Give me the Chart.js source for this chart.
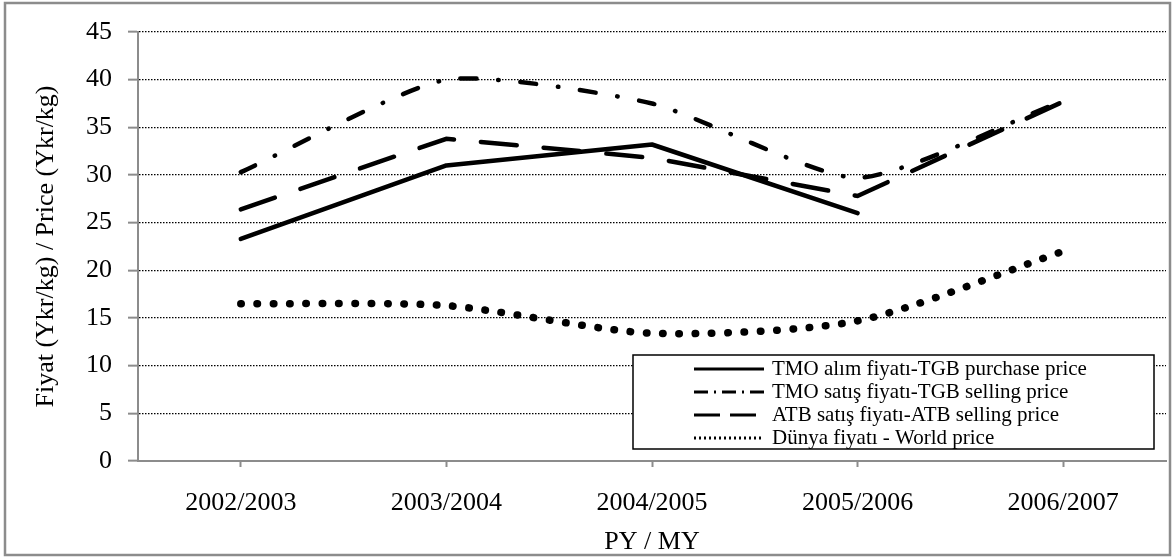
<!DOCTYPE html>
<html><head><meta charset="utf-8">
<script src="https://cdn.jsdelivr.net/npm/chart.js@4.4.1/dist/chart.umd.min.js"></script>
<style>html,body{margin:0;padding:0;background:#fff}canvas{display:block}</style>
</head><body>
<canvas id="c" width="1175" height="558"></canvas>
<script>
const categories = ['2002/2003', '2003/2004', '2004/2005', '2005/2006', '2006/2007'];
const tmoPurchase = [23.3, 31.0, 33.2, 26.0, null];
const tmoSelling = [30.3, 40.0, 37.5, 29.7, 37.8];
const atbSelling = [26.4, 33.8, 31.8, 27.8, 37.7];
const worldPrice = [16.5, 16.3, 13.4, 14.7, 22.0];
const seriesLabels = [
  'TMO alım fiyatı-TGB purchase price',
  'TMO satış fiyatı-TGB selling price',
  'ATB satış fiyatı-ATB selling price',
  'Dünya fiyatı - World price'
];
const yTitle = 'Fiyat (Ykr/kg) / Price (Ykr/kg)';
const xTitle = 'PY / MY';

const FONT = '"Liberation Serif", "Times New Roman", Times, serif';
const legendDash = [[], [14, 6, 2, 6], [26, 10], [2, 3]];

const frame = {
  id: 'frame',
  beforeDraw(chart) {
    const ctx = chart.ctx;
    ctx.save();
    ctx.fillStyle = '#fff';
    ctx.fillRect(0, 0, chart.width, chart.height);
    ctx.strokeStyle = '#8c8c8c';
    ctx.lineWidth = 2.5;
    ctx.strokeRect(5, 3, 1165, 552);
    ctx.restore();
  }
};

const boxLegend = {
  id: 'boxLegend',
  afterDatasetsDraw(chart) {
    const ctx = chart.ctx, a = chart.chartArea;
    const right = a.right - 12, bottom = a.bottom - 12, left = 633, top = bottom - 94;
    ctx.save();
    ctx.fillStyle = '#fff';
    ctx.fillRect(left, top, right - left, bottom - top);
    ctx.strokeStyle = '#000';
    ctx.lineWidth = 1.5;
    ctx.strokeRect(left, top, right - left, bottom - top);
    chart.data.datasets.forEach((ds, i) => {
      const y = top + 14 + i * 23;
      ctx.beginPath();
      ctx.setLineDash(legendDash[i]);
      ctx.lineWidth = 3;
      ctx.strokeStyle = '#000';
      ctx.lineCap = 'butt';
      ctx.moveTo(694, y);
      ctx.lineTo(764, y);
      ctx.stroke();
      ctx.setLineDash([]);
      ctx.fillStyle = '#000';
      ctx.font = '21px ' + FONT;
      ctx.textBaseline = 'middle';
      ctx.textAlign = 'left';
      ctx.fillText(ds.label, 772, y);
    });
    ctx.restore();
  }
};

new Chart(document.getElementById('c'), {
  type: 'line',
  data: {
    labels: categories,
    datasets: [
      { label: seriesLabels[0], data: tmoPurchase, borderColor: '#000', borderWidth: 4.5, tension: 0, pointRadius: 0, borderCapStyle: 'round', borderJoinStyle: 'round' },
      { label: seriesLabels[1], data: tmoSelling, borderColor: '#000', borderWidth: 4.5, tension: 0.2, pointRadius: 0, borderDash: [16, 21.75, 0.5, 21.75], borderCapStyle: 'round' },
      { label: seriesLabels[2], data: atbSelling, borderColor: '#000', borderWidth: 4.5, tension: 0, pointRadius: 0, borderDash: [36, 27], borderCapStyle: 'round' },
      { label: seriesLabels[3], data: worldPrice, borderColor: '#000', borderWidth: 7.5, tension: 0.25, pointRadius: 0, borderDash: [0.5, 15.8], borderCapStyle: 'round' }
    ]
  },
  options: {
    responsive: false,
    animation: false,
    devicePixelRatio: 1,
    layout: { padding: { top: 32, right: 9, left: 0, bottom: 0 } },
    plugins: { legend: { display: false }, tooltip: { enabled: false } },
    scales: {
      x: {
        type: 'category',
        offset: true,
        grid: { drawOnChartArea: false, drawTicks: true, tickLength: 6, tickColor: '#8c8c8c', tickWidth: 2, offset: false },
        border: { color: '#8c8c8c', width: 2 },
        ticks: { color: '#000', font: { family: FONT, size: 26 }, padding: 21, maxRotation: 0, autoSkip: false },
        title: { display: true, text: xTitle, color: '#000', font: { family: FONT, size: 26 }, padding: { top: 0, bottom: 0 } },
        afterFit(s) { s.height = 97; }
      },
      y: {
        min: 0, max: 45,
        grid: { color: '#000', lineWidth: 1.3, drawTicks: true, tickLength: 10, tickColor: '#8c8c8c', tickWidth: 2 },
        border: { color: '#8c8c8c', width: 2, dash: [1.5, 1.5] },
        ticks: { stepSize: 5, color: '#000', font: { family: FONT, size: 26 }, padding: 16 },
        title: { display: true, text: yTitle, color: '#000', font: { family: FONT, size: 26 }, padding: { top: 31, bottom: 0 } },
        afterFit(s) { s.width = 138; }
      }
    }
  },
  plugins: [frame, boxLegend]
});
</script>
</body></html>
